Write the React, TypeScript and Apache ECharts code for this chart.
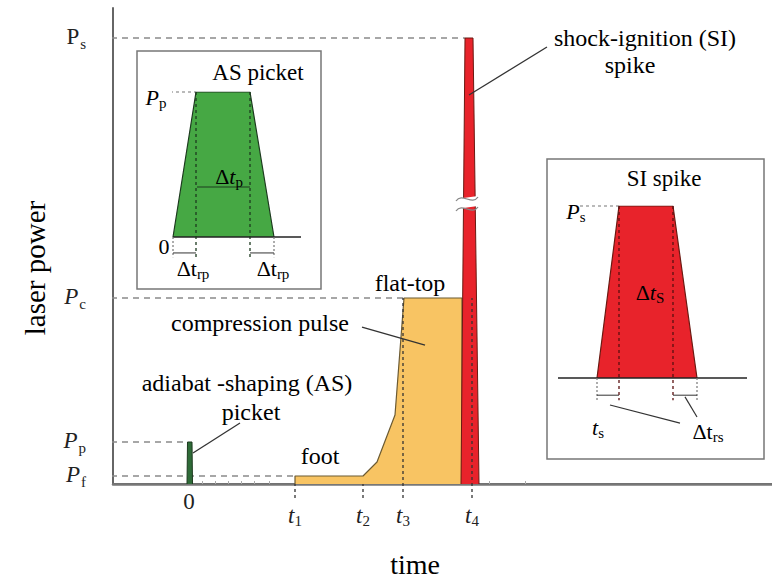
import React, { useEffect, useRef } from "react";
import * as echarts from "echarts";

// ---------- main chart data (time in arbitrary units, power in arbitrary units) ----------
const levelNames = ["Pf", "Pp", "Pc", "Ps"];
const levelValues = [8, 42, 186, 446];
const levelLineEnds = [106, -1.5, 215, 276];
const timeNames = ["0", "t1", "t2", "t3", "t4"];
const timeValues = [0, 106, 174, 214, 283];
const minorTicks = [13, 26, 39, 52, 65, 80, 126, 146, 160, 190, 204, 230, 258, 300, 336];

const picketX = [-2, -1.5, 3, 3.5];
const picketY = [0, 42, 42, 0];
const compX = [106, 106, 174, 188, 206, 215, 273, 273];
const compY = [0, 8, 8, 22, 69, 186, 186, 0];
const spikeX = [272, 276, 284, 290];
const spikeY = [0, 446, 446, 0];

// ---------- AS picket inset ----------
const asX = [0, 23, 77, 101];
const asY = [0, 1, 1, 0];
const asBaseEnd = 128;
const asDtpLevel = 0.345;
// ---------- SI spike inset ----------
const siX = [39, 61, 115, 139];
const siY = [0, 1, 1, 0];
const siBaseEnd = 189;

const SERIF = "Liberation Serif";

const pairs = (xs: number[], ys: number[]) => xs.map((x, i) => [x, ys[i]]);

function seg(data: number[][], color: string, width: number, type: any, xi = 0, z = 5) {
  return {
    type: "line",
    xAxisIndex: xi,
    yAxisIndex: xi === 0 ? 0 : xi === 2 ? 1 : 2,
    data,
    symbol: "none",
    clip: false,
    silent: true,
    z,
    lineStyle: { color, width, type },
  };
}

export default function App() {
  const ref = useRef<HTMLDivElement>(null);
  useEffect(() => {
    if (!ref.current) return;
    const chart = echarts.init(ref.current, null, { renderer: "svg" });

    const series: any[] = [];
    levelValues.forEach((v, i) => {
      series.push(seg([[-89, v], [levelLineEnds[i], v]], "#8a8a8a", 1.4, [6, 5], 0, 1));
    });
    series.push({
      type: "line", xAxisIndex: 0, yAxisIndex: 0, data: pairs(compX, compY), symbol: "none", z: 3,
      lineStyle: { color: "#6b5a32", width: 1.2 }, areaStyle: { color: "#F8C463", opacity: 1 },
    });
    series.push({
      type: "line", xAxisIndex: 0, yAxisIndex: 0, data: pairs(spikeX, spikeY), symbol: "none", z: 4,
      lineStyle: { color: "#6a1a12", width: 1 }, areaStyle: { color: "#E8232B", opacity: 1 },
    });
    series.push({
      type: "line", xAxisIndex: 0, yAxisIndex: 0, data: pairs(picketX, picketY), symbol: "none", z: 4,
      lineStyle: { color: "#1d3a1f", width: 1 }, areaStyle: { color: "#2F6B38", opacity: 1 },
    });
    timeValues.slice(1).forEach((t, i) => {
      const top = i === 2 || i === 3 ? 186 : 0;
      series.push(seg([[t, -14], [t, top]], "#333", 1.3, [3, 3], 0, 6));
    });

    // AS inset
    series.push({
      type: "line", xAxisIndex: 2, yAxisIndex: 1, data: pairs(asX, asY), symbol: "none", z: 4,
      lineStyle: { color: "#1d3a1f", width: 1.2 }, areaStyle: { color: "#46A844", opacity: 1 },
    });
    series.push(seg([[0, 0], [asBaseEnd, 0]], "#222", 1.3, "solid", 2));
    series.push(seg([[-3, 1], [asX[1], 1]], "#777", 1.2, [3, 3], 2));
    series.push(seg([[asX[1], 1], [asX[1], -0.14]], "#1d3a1f", 1.3, [3, 3], 2, 6));
    series.push(seg([[asX[2], 1], [asX[2], -0.14]], "#1d3a1f", 1.3, [3, 3], 2, 6));
    series.push(seg([[asX[0], 0], [asX[0], -0.14]], "#777", 1.2, [2, 2], 2));
    series.push(seg([[asX[3], 0], [asX[3], -0.14]], "#777", 1.2, [2, 2], 2));
    series.push(seg([[asX[0], -0.11], [asX[1], -0.11]], "#333", 1, "solid", 2));
    series.push(seg([[asX[2], -0.11], [asX[3], -0.11]], "#333", 1, "solid", 2));
    series.push(seg([[asX[1] + 1, asDtpLevel], [asX[2], asDtpLevel]], "#1d3a1f", 1.2, "solid", 2, 6));

    // SI inset
    series.push({
      type: "line", xAxisIndex: 3, yAxisIndex: 2, data: pairs(siX, siY), symbol: "none", z: 4,
      lineStyle: { color: "#6a1a12", width: 1.2 }, areaStyle: { color: "#E8232B", opacity: 1 },
    });
    series.push(seg([[0, 0], [siBaseEnd, 0]], "#222", 1.3, "solid", 3));
    series.push(seg([[22, 1], [siX[1], 1]], "#777", 1.2, [3, 3], 3));
    series.push(seg([[siX[1], 1], [siX[1], -0.13]], "#5a1010", 1.3, [3, 3], 3, 6));
    series.push(seg([[siX[2], 1], [siX[2], -0.13]], "#5a1010", 1.3, [3, 3], 3, 6));
    series.push(seg([[siX[0], 0], [siX[0], -0.13]], "#777", 1.2, [2, 2], 3));
    series.push(seg([[siX[3], 0], [siX[3], -0.13]], "#777", 1.2, [2, 2], 3));
    series.push(seg([[siX[0], -0.1], [siX[1], -0.1]], "#333", 1, "solid", 3));
    series.push(seg([[siX[2], -0.1], [siX[3], -0.1]], "#333", 1, "solid", 3));
    series.push(seg([[52, -0.157], [122, -0.262]], "#333", 1.2, "solid", 3));
    series.push(seg([[127, -0.11], [139, -0.227]], "#333", 1.2, "solid", 3));

    const hiddenAxis = (gridIndex: number, min: number, max: number) => ({
      type: "value", gridIndex, min, max, show: false,
    });

    const rich = {
      P: { fontFamily: SERIF, fontSize: 23, color: "#222", verticalAlign: "top", padding: [0, 0, 0, 0] },
      Pi: { fontFamily: SERIF, fontSize: 23, fontStyle: "italic", color: "#222", verticalAlign: "top", padding: [0, 0, 0, 0] },
      s: { fontFamily: SERIF, fontSize: 15, color: "#222", verticalAlign: "top", padding: [11, 0, 0, 1] },
    };
    const xrich = {
      z: { fontFamily: SERIF, fontSize: 23, color: "#222", verticalAlign: "top", padding: [0, 0, 0, 0] },
      t: { fontFamily: SERIF, fontSize: 23, fontStyle: "italic", color: "#222", verticalAlign: "top", padding: [14, 0, 0, 0] },
      s: { fontFamily: SERIF, fontSize: 15, color: "#222", verticalAlign: "top", padding: [23, 0, 0, 0] },
    };

    const richIn: any = {
      d: { fontFamily: SERIF, fontSize: 22, color: "#222" },
      n: { fontFamily: SERIF, fontSize: 23, color: "#222" },
      ti: { fontFamily: SERIF, fontSize: 22, fontStyle: "italic", color: "#222" },
      Pi: { fontFamily: SERIF, fontSize: 22, fontStyle: "italic", color: "#222" },
      s: { fontFamily: SERIF, fontSize: 15, color: "#222", padding: [12, 0, 0, 0] },
      m: { fontFamily: SERIF, fontSize: 24, color: "#222" },
      big: { fontFamily: SERIF, fontSize: 28, color: "#222" },
      ylab: { fontFamily: SERIF, fontSize: 29, color: "#222" },
    };
    const RT = (text: string, x: number, y: number, extra: any = {}) => ({
      type: "text", x, y, z: 20, ...extra,
      style: { text, rich: richIn, fontFamily: SERIF, align: "center", verticalAlign: "middle" },
    });
    const T = (text: string, x: number, y: number, tok = "m") => RT("{" + tok + "|" + text + "}", x, y);
    const L = (x1: number, y1: number, x2: number, y2: number, w = 1.3) => ({
      type: "line", z: 20, shape: { x1, y1, x2, y2 }, style: { stroke: "#333", lineWidth: w },
    });

    const option: any = {
      animation: false,
      backgroundColor: "#fff",
      textStyle: { fontFamily: SERIF },
      grid: [
        { left: 113, top: 8, right: 0, bottom: 94 },
        { left: 173, top: 92, width: 128, height: 145 },
        { left: 558, top: 206, width: 189, height: 172 },
      ],
      xAxis: [
        {
          type: "value", gridIndex: 0, min: -76, max: 583, position: "bottom",
          axisLine: { show: true, onZero: false, lineStyle: { color: "#666", width: 2 } },
          splitLine: { show: false },
          axisTick: { show: true, inside: true, length: 3, customValues: minorTicks, lineStyle: { color: "#aaa", width: 1 } },
          axisLabel: {
            show: true, margin: 6, customValues: timeValues, fontFamily: SERIF,
            formatter: (v: number) => {
              const i = timeValues.indexOf(v);
              const n = timeNames[i];
              if (n === "0") return "{z|0}";
              return "{t|" + n[0] + "}{s|" + n.slice(1) + "}";
            },
            rich: xrich,
          },
        },
        {
          type: "value", gridIndex: 0, min: -76, max: 583, position: "top",
          axisLine: { show: true, lineStyle: { color: "#777", width: 2.5 } },
          axisTick: { show: false }, axisLabel: { show: false }, splitLine: { show: false },
        },
        hiddenAxis(1, 0, asBaseEnd),
        hiddenAxis(2, 0, siBaseEnd),
      ],
      yAxis: [
        {
          type: "value", gridIndex: 0, min: 0, max: 476,
          axisLine: { show: true, onZero: false, lineStyle: { color: "#666", width: 2 } },
          splitLine: { show: false },
          axisTick: { show: false },
          axisLabel: {
            show: true, margin: 27, customValues: levelValues, fontFamily: SERIF,
            formatter: (v: number) => {
              const n = levelNames[levelValues.indexOf(v)];
              return (n === "Ps" ? "{P|P}" : "{Pi|P}") + "{s|" + n.slice(1) + "}";
            },
            rich,
          },
        },
        hiddenAxis(1, 0, 1),
        hiddenAxis(2, 0, 1),
      ],
      series,
      graphic: [
        { type: "rect", z: 0, shape: { x: 137, y: 51, width: 184, height: 238 }, style: { fill: "#fff", stroke: "#777", lineWidth: 1.5 } },
        { type: "rect", z: 0, shape: { x: 547, y: 159, width: 217, height: 300 }, style: { fill: "#fff", stroke: "#777", lineWidth: 1.5 } },
        { type: "polygon", z: 30, shape: { points: [[456, 199], [478, 196], [478, 206], [456, 209]] }, style: { fill: "#fff" } },
        { type: "bezierCurve", z: 31, shape: { x1: 456, y1: 201, x2: 478, y2: 197, cpx1: 462, cpy1: 192, cpx2: 472, cpy2: 206 }, style: { stroke: "#888", lineWidth: 1.3, fill: "none" } },
        { type: "bezierCurve", z: 31, shape: { x1: 456, y1: 211, x2: 478, y2: 207, cpx1: 462, cpy1: 202, cpx2: 472, cpy2: 216 }, style: { stroke: "#888", lineWidth: 1.3, fill: "none" } },
        T("shock-ignition (SI)", 645, 38),
        T("spike", 630, 65),
        L(547, 47, 469, 95),
        T("flat-top", 410, 283),
        T("compression pulse", 260, 323),
        L(362, 327, 425, 345),
        T("adiabat -shaping (AS)", 247, 383),
        T("picket", 251, 412),
        L(240, 423, 193, 453),
        T("foot", 320, 456),
        T("time", 415, 564, "big"),
        RT("{ylab|laser power}", 35, 268, { rotation: Math.PI / 2 }),
        T("AS picket", 258, 72, "n"),
        RT("{Pi|P}{s|p}", 156, 97),
        T("0", 164, 246, "d"),
        RT("{d|Δ}{ti|t}{s|p}", 229, 176),
        RT("{d|Δt}{s|rp}", 193, 268),
        RT("{d|Δt}{s|rp}", 273, 268),
        T("SI spike", 664, 178, "n"),
        RT("{Pi|P}{s|s}", 576, 211),
        RT("{d|Δ}{ti|t}{s|S}", 650, 292),
        RT("{ti|t}{s|s}", 598, 427),
        RT("{d|Δt}{s|rs}", 708, 431),
      ],
    };
    chart.setOption(option);
    return () => chart.dispose();
  }, []);
  return <div ref={ref} style={{ position: "fixed", left: 0, top: 0, width: 772, height: 578, background: "#fff" }} />;
}
